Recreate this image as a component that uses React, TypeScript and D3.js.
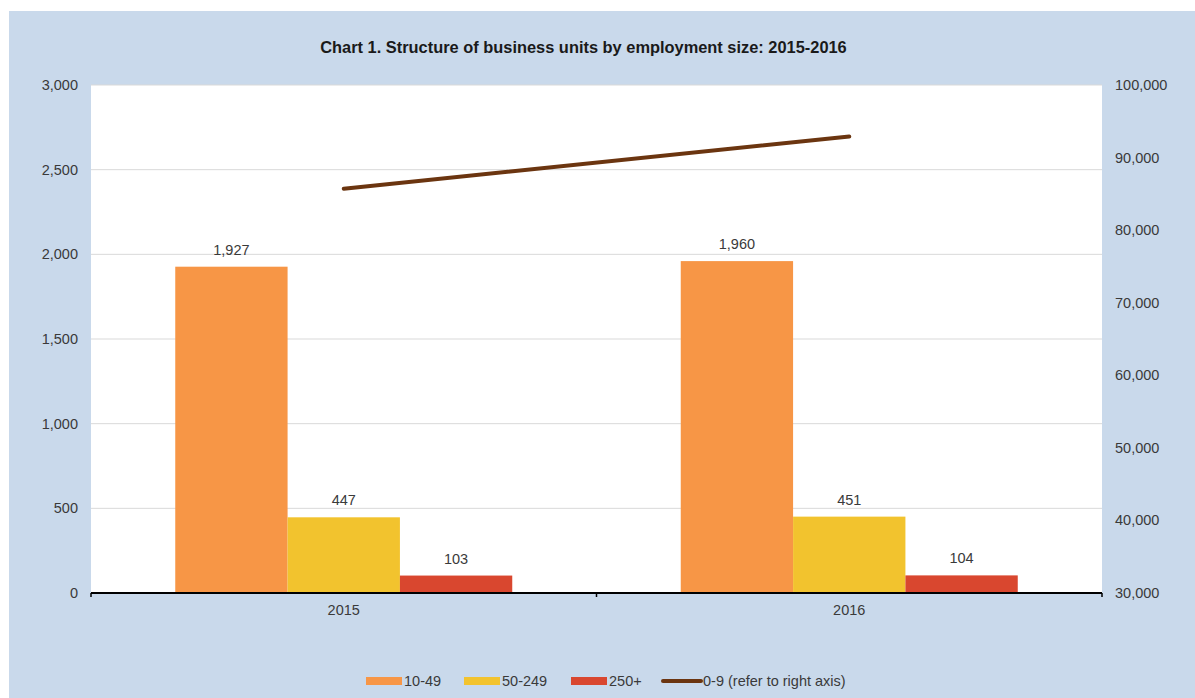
import React from "react";
import * as d3 from "d3";

const years = ["2015", "2016"];
const seriesNames = ["10-49", "50-249", "250+"];
const values1049 = [1927, 1960];
const values50249 = [447, 451];
const values250 = [103, 104];
const values09 = [85700, 92900];
const leftTicks = [0, 500, 1000, 1500, 2000, 2500, 3000];
const rightTicks = [30000, 40000, 50000, 60000, 70000, 80000, 90000, 100000];

const colors = ["#F79646", "#F2C32E", "#D9472F"];
const lineColor = "#6B3510";
const W = 1195, H = 698;
const left = 91, right = 1102, top = 85, bottom = 593;

export default function App() {
  const barSeries = [values1049, values50249, values250];
  const x0 = d3.scaleBand<string>().domain(years).range([left, right]).paddingInner(0).paddingOuter(0);
  const y = d3.scaleLinear().domain([0, 3000]).range([bottom, top]);
  const yR = d3.scaleLinear().domain([30000, 100000]).range([bottom, top]);
  const bw = x0.bandwidth();
  const groupW = bw * (3 / 4.5);
  const x1 = d3.scaleBand<string>().domain(seriesNames).range([0, groupW]).padding(0);
  const fmt = d3.format(",");
  const lineGen = d3.line<number>().x((_, i) => (x0(years[i]) as number) + bw / 2).y((d) => yR(d));
  const font = "'Liberation Sans', Arial, sans-serif";
  const txt = "#3a3a3a";
  const fs = 14.5;

  const legendItems = [
    { type: "rect", color: colors[0], label: "10-49", x: 366 },
    { type: "rect", color: colors[1], label: "50-249", x: 464 },
    { type: "rect", color: colors[2], label: "250+", x: 571 },
    { type: "line", color: lineColor, label: "0-9 (refer to right axis)", x: 663 },
  ];

  return (
    <svg width={W} height={H} style={{ position: "absolute", left: 0, top: 0 }} fontFamily={font}>
      <rect x={9} y={11} width={W - 9} height={H - 11} fill="#C9D9EB" />
      <rect x={left} y={top} width={right - left} height={bottom - top} fill="#FFFFFF" />
      <text x={583.5} y={53} textAnchor="middle" fontSize={16.4} fontWeight="bold" fill="#1a1a1a">
        Chart 1. Structure of business units by employment size: 2015-2016
      </text>
      {leftTicks.slice(1).map((t) => (
        <line key={t} x1={left} x2={right} y1={y(t)} y2={y(t)} stroke="#D9D9D9" strokeWidth={1} />
      ))}
      {leftTicks.map((t) => (
        <text key={t} x={78} y={y(t) + 5} textAnchor="end" fontSize={fs} fill={txt}>{fmt(t)}</text>
      ))}
      {rightTicks.map((t) => (
        <text key={t} x={1115} y={yR(t) + 5} textAnchor="start" fontSize={fs} fill={txt}>{fmt(t)}</text>
      ))}
      {years.map((yr, i) => {
        const gx = (x0(yr) as number) + (bw - groupW) / 2;
        return (
          <g key={yr}>
            {barSeries.map((s, j) => {
              const bx = gx + (x1(seriesNames[j]) as number);
              return (
                <g key={j}>
                  <rect x={bx} y={y(s[i])} width={x1.bandwidth()} height={bottom - y(s[i])} fill={colors[j]} />
                  <text x={bx + x1.bandwidth() / 2} y={y(s[i]) - 12} textAnchor="middle" fontSize={fs} fill={txt}>{fmt(s[i])}</text>
                </g>
              );
            })}
            <text x={(x0(yr) as number) + bw / 2} y={615} textAnchor="middle" fontSize={fs} fill={txt}>{yr}</text>
          </g>
        );
      })}
      <line x1={left} x2={right} y1={bottom} y2={bottom} stroke="#000" strokeWidth={2} />
      {[left, left + bw, right].map((tx, i) => (
        <line key={i} x1={tx} x2={tx} y1={bottom} y2={bottom + 4} stroke="#000" strokeWidth={1.5} />
      ))}
      <path d={lineGen(values09) || ""} fill="none" stroke={lineColor} strokeWidth={4} strokeLinecap="round" />
      {legendItems.map((it) => (
        <g key={it.label}>
          {it.type === "rect" ? (
            <rect x={it.x} y={677} width={36} height={8} fill={it.color} />
          ) : (
            <line x1={it.x} x2={it.x + 38} y1={681} y2={681} stroke={it.color} strokeWidth={4} strokeLinecap="round" />
          )}
          <text x={it.x + (it.type === "rect" ? 38 : 40)} y={686} fontSize={fs} fill={txt}>{it.label}</text>
        </g>
      ))}
    </svg>
  );
}
